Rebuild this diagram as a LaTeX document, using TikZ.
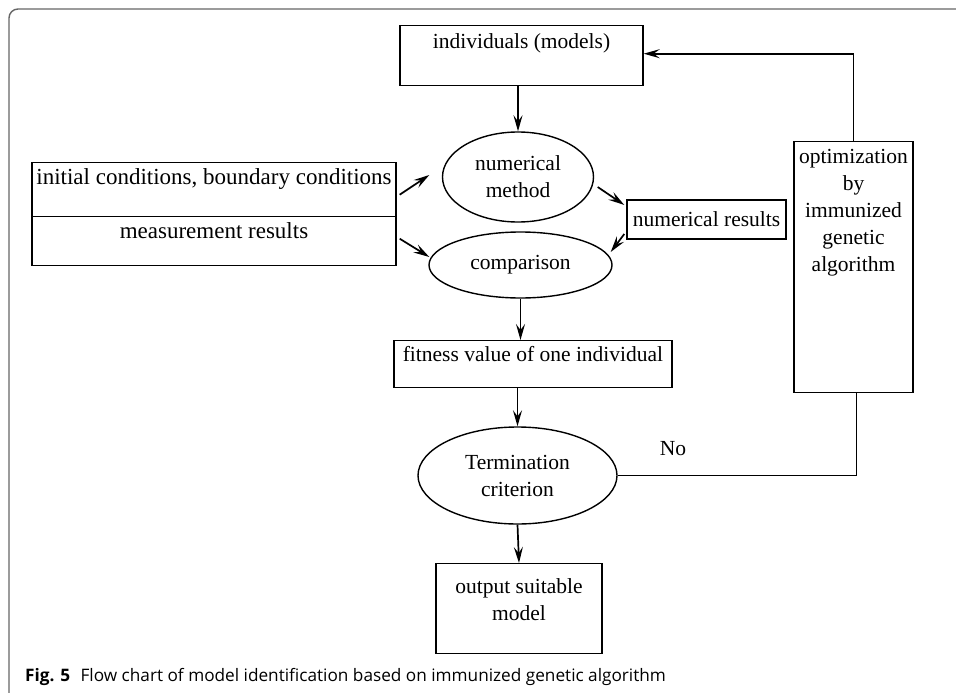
\documentclass[tikz,border=0pt]{standalone}
\usepackage{fontspec}
\setmainfont{Liberation Serif}
\newfontfamily\capfont{Open Sans}
\usetikzlibrary{arrows.meta,shapes.geometric,calc}
\begin{document}
\begin{tikzpicture}[x=1pt,y=-1pt,
  every node/.style={font=\fontsize{21.5}{27}\selectfont},
  box/.style={draw, line width=1.4pt, rectangle, inner sep=0pt},
  ell/.style={draw, line width=1.4pt, ellipse, inner sep=0pt, align=center},
  arr/.style={line width=1.7pt, -{Stealth[length=16pt,width=9pt,inset=6pt]}},
  conn/.style={line width=1.4pt},
  bigtxt/.style={font=\fontsize{23}{27}\selectfont}]
\clip (0,0) rectangle (956,693);
\useasboundingbox (0,0) rectangle (956,693);
\draw[line width=1.4pt, color=black!60, rounded corners=9pt] (9,9) rectangle (980,720);

% boxes
\node[box, anchor=north, minimum width=243pt, text height=23pt, text depth=37pt] (ind) at (521.5,25) {individuals (models)};
\node[box, bigtxt, anchor=north, minimum width=364pt, text height=22pt, text depth=32pt] (ic) at (214,162) {initial conditions, boundary conditions};
\node[box, bigtxt, anchor=north, minimum width=364pt, text height=22pt, text depth=27pt] (mr) at (214,216) {measurement results};
\node[box, minimum width=159pt, minimum height=39pt] (nr) at (706.5,219.5) {numerical results};
\node[box, anchor=north, minimum width=278pt, text height=21pt, text depth=26pt] (fit) at (533,340) {fitness value of one individual};
\node[box, anchor=north] (out) at (519,563) {\parbox[c][90pt][t]{166pt}{\centering\rule{0pt}{30pt}output suitable\\model}};
\node[box, anchor=north] (opt) at (853.5,141) {\parbox[c][251pt][t]{119pt}{\centering\rule{0pt}{22pt}optimization\\by\\immunized\\genetic\\algorithm}};

% ellipses
\node[ell, minimum width=151pt, minimum height=90pt] (nm) at (518,177) {numerical\\method};
\node[ell, minimum width=183pt, minimum height=66pt] (cmp) at (520.5,265) {comparison};
\node[ell, minimum width=199pt, minimum height=97pt] (term) at (517.5,475.5) {Termination\\criterion};

% label
\node (no) at (673,449) {No};

% connectors
\draw[arr] (nm.north |- ind.south) -- (nm.north);
\draw[arr] ($(ic.east)+(3,5)$) -- ($(nm.west)+(-12.5,-2)$);
\draw[arr] ($(mr.east)+(3,-2.5)$) -- ($(cmp.west)+(1,-8)$);
\draw[arr] ($(nm.east)+(3.5,10)$) -- ($(nr.west)+(-2,-14.5)$);
\draw[arr] ($(nr.west)+(-2,14.5)$) -- ($(cmp.east)+(-2,-13)$);
\draw[arr] (cmp.south) -- (cmp.south |- fit.north);
\draw[arr] (term.north |- fit.south) -- (term.north);
\draw[arr] (term.south) -- (out.north);
\draw[conn] (term.east) -- ($(term.east -| opt.south)+(3,0)$) -- ($(opt.south)+(3,0)$);
\draw[arr] (opt.north) |- ($(ind.east)+(0,-2)$);

% caption
\node[anchor=base west, inner sep=0pt, font=\capfont\fontsize{17.2}{20}\selectfont] (cap) at (25,681) {\textbf{Fig. 5}\hspace{0.6em}Flow chart of model identification based on immunized genetic algorithm};
\end{tikzpicture}
\end{document}
